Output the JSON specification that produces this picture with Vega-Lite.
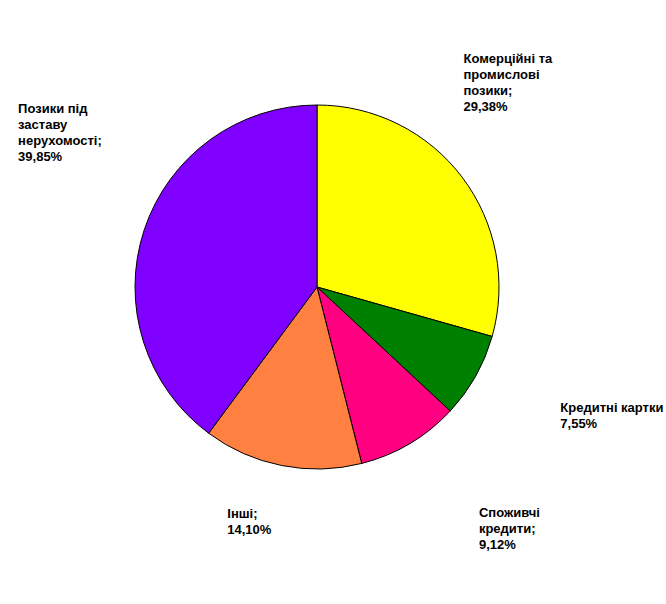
{
  "$schema": "https://vega.github.io/schema/vega-lite/v6.json",
  "width": 634,
  "height": 574,
  "autosize": {"type": "none"},
  "padding": {"left": 0, "top": 0, "right": 32, "bottom": 30},
  "background": "white",
  "view": {"stroke": null},
  "data": {
    "values": [
      {"idx": 1, "category": "Комерційні та промислові позики", "value": 29.38, "label": "Комерційні та\nпромислові\nпозики;\n29,38%"},
      {"idx": 2, "category": "Кредитні картки", "value": 7.55, "label": "Кредитні картки\n7,55%"},
      {"idx": 3, "category": "Споживчі кредити", "value": 9.12, "label": "Споживчі\nкредити;\n9,12%"},
      {"idx": 4, "category": "Інші", "value": 14.10, "label": "Інші;\n14,10%"},
      {"idx": 5, "category": "Позики під заставу нерухомості", "value": 39.85, "label": "Позики під\nзаставу\nнерухомості;\n39,85%"}
    ]
  },
  "encoding": {
    "theta": {"field": "value", "type": "quantitative", "stack": true},
    "order": {"field": "idx", "type": "quantitative", "sort": "ascending"}
  },
  "layer": [
    {
      "mark": {"type": "arc", "radius": 182, "stroke": "black", "strokeWidth": 1},
      "encoding": {
        "color": {
          "field": "category",
          "type": "nominal",
          "scale": {
            "domain": ["Комерційні та промислові позики", "Кредитні картки", "Споживчі кредити", "Інші", "Позики під заставу нерухомості"],
            "range": ["#FFFF00", "#008000", "#FF0080", "#FF8040", "#8000FF"]
          },
          "legend": null
        }
      }
    },
    {
      "mark": {"type": "text", "radius": 200, "dx": -13, "dy": -113, "align": "left", "baseline": "top", "lineBreak": "\n", "lineHeight": 16, "font": "Liberation Sans", "fontSize": 13, "fontWeight": "bold", "color": "black"},
      "encoding": {"text": {"condition": {"test": "datum.idx == 1", "field": "label"}, "value": ""}}
    },
    {
      "mark": {"type": "text", "radius": 200, "dx": 69, "dy": 17, "align": "left", "baseline": "top", "lineBreak": "\n", "lineHeight": 16, "font": "Liberation Sans", "fontSize": 13, "fontWeight": "bold", "color": "black"},
      "encoding": {"text": {"condition": {"test": "datum.idx == 2", "field": "label"}, "value": ""}}
    },
    {
      "mark": {"type": "text", "radius": 200, "dx": 60, "dy": 48, "align": "left", "baseline": "top", "lineBreak": "\n", "lineHeight": 16, "font": "Liberation Sans", "fontSize": 13, "fontWeight": "bold", "color": "black"},
      "encoding": {"text": {"condition": {"test": "datum.idx == 3", "field": "label"}, "value": ""}}
    },
    {
      "mark": {"type": "text", "radius": 200, "dx": -51, "dy": 25, "align": "left", "baseline": "top", "lineBreak": "\n", "lineHeight": 16, "font": "Liberation Sans", "fontSize": 13, "fontWeight": "bold", "color": "black"},
      "encoding": {"text": {"condition": {"test": "datum.idx == 4", "field": "label"}, "value": ""}}
    },
    {
      "mark": {"type": "text", "radius": 200, "dx": -109, "dy": -121, "align": "left", "baseline": "top", "lineBreak": "\n", "lineHeight": 16, "font": "Liberation Sans", "fontSize": 13, "fontWeight": "bold", "color": "black"},
      "encoding": {"text": {"condition": {"test": "datum.idx == 5", "field": "label"}, "value": ""}}
    }
  ]
}
